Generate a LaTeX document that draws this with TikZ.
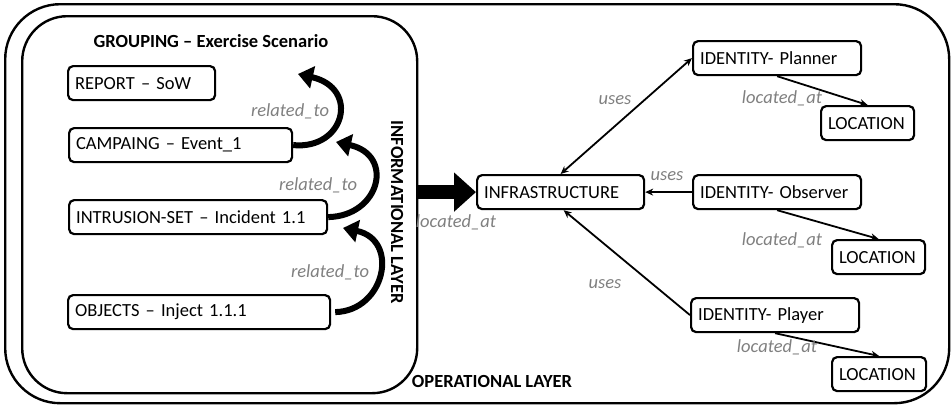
\documentclass[tikz,border=0pt]{standalone}
\usepackage{fontspec}
\setmainfont{Carlito}
\usepackage{tikz}
\usetikzlibrary{arrows.meta}

\tikzset{
  box/.style={draw, line width=2.2pt, rounded corners=5pt, minimum height=34pt,
    inner xsep=7pt, align=left, anchor=north west, font=\fontsize{18.5}{21}\selectfont},
  lbl/.style={text=gray, font=\fontsize{18.5}{21}\selectfont\itshape},
  head/.style={font=\fontsize{18.5}{21}\selectfont\bfseries},
  rel/.style={line width=6pt, -{Triangle[length=15pt,width=22pt]}},
  link/.style={line width=1.8pt, -{Stealth[length=8pt,width=7pt]}},
  bigarrow/.style={line width=14pt, -{Triangle[length=22pt,width=38pt]}},
}

\begin{document}
\begin{tikzpicture}[x=1pt,y=-1pt]
  \useasboundingbox (0,0) rectangle (952,407);

  % the two layers:
  \node[draw, line width=2.4pt, rounded corners=55pt, anchor=north west,
    minimum width=944pt, minimum height=399pt] (ops) at (4,3) {};
  \node[draw, line width=2.4pt, rounded corners=45pt, anchor=north west,
    minimum width=395pt, minimum height=377pt] (info) at (21,15) {};
  \node[head] (grouping) at (211,41) {GROUPING – Exercise Scenario};
  \node[head, rotate=-90] (infolayer) at (397,212) {INFORMATIONAL LAYER};
  \node[head] (opslayer) at (492,381) {OPERATIONAL LAYER};

  % informational objects:
  \node[box, text width=133pt] (report) at (67,65) {REPORT – SoW};
  \node[box, text width=209pt] (campaing) at (68,127) {CAMPAING – Event\_1};
  \node[box, text width=244pt] (intrusion) at (68,199) {INTRUSION-SET – Incident 1.1};
  \node[box, text width=248pt] (objects) at (67,294) {OBJECTS – Inject 1.1.1};

  \coordinate (r1) at (298,74);
  \coordinate (r2) at (336,142);
  \coordinate (r3) at (343,228);
  \draw[rel] (campaing.east) .. controls (345,150) and (360,88) .. (r1);
  \draw[rel] (intrusion.east) .. controls (380,216) and (395,155) .. (r2);
  \draw[rel] ([xshift=4pt]objects.east) .. controls (385,311) and (400,240) .. (r3);
  \node[lbl] (rt1) at (290,111) {related\_to};
  \node[lbl] (rt2) at (318,185) {related\_to};
  \node[lbl] (rt3) at (330,272) {related\_to};

  % operational objects:
  \node[box, text width=153pt] (infra) at (476,174) {INFRASTRUCTURE};
  \node[box, text width=154pt] (planner) at (692,40) {IDENTITY- Planner};
  \node[box, text width=154pt] (observer) at (692,174) {IDENTITY- Observer};
  \node[box, text width=154pt] (player) at (690,297) {IDENTITY- Player};
  \node[box, text width=79pt] (loc1) at (820,105) {LOCATION};
  \node[box, text width=79pt] (loc2) at (831,239) {LOCATION};
  \node[box, text width=80pt] (loc3) at (831,356) {LOCATION};

  \draw[bigarrow] (info.east |- infra.west) -- (infra.west);
  \node[lbl] (la0) at (456,222) {located\_at};

  \draw[link, {Stealth[length=8pt,width=7pt]}-{Stealth[length=8pt,width=7pt]}] (planner.west) -- (infra.north);
  \draw[link] (observer.west) -- (infra.east);
  \draw[link] (player.west) -- ([xshift=3pt]infra.south);
  \node[lbl] (u1) at (615,100) {uses};
  \node[lbl] (u2) at (667,176) {uses};
  \node[lbl] (u3) at (605,284) {uses};

  \draw[link] (planner.south) -- (loc1.north);
  \draw[link] (observer.south) -- (loc2.north);
  \draw[link] (player.south) -- (loc3.north);
  \node[lbl] (la1) at (782,98) {located\_at};
  \node[lbl] (la2) at (782,240) {located\_at};
  \node[lbl] (la3) at (777,347) {located\_at};
\end{tikzpicture}
\end{document}
